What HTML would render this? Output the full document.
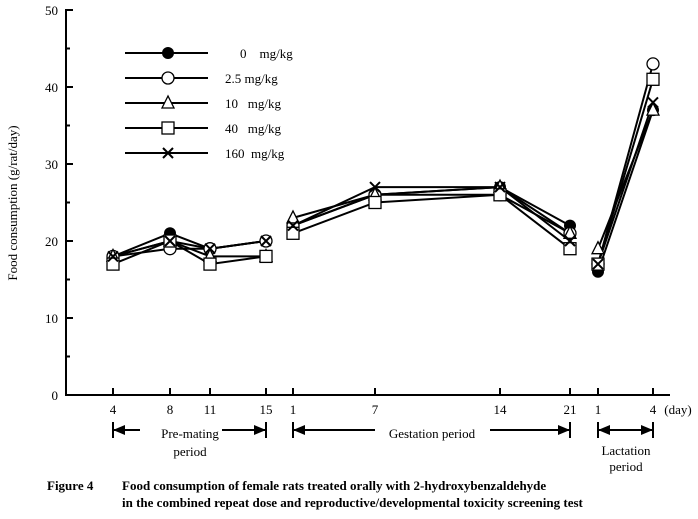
<!DOCTYPE html><html><head><style>body{margin:0;background:#fff}svg{font-family:"Liberation Serif",serif}</style></head><body>
<svg id="s" width="698" height="514" xmlns="http://www.w3.org/2000/svg">
<g stroke="#000" stroke-width="2" fill="none">
<line x1="66" y1="9" x2="66" y2="396"/><line x1="65" y1="395" x2="670" y2="395"/>
<path d="M66 10h7M66 87h7M66 164h7M66 241h7M66 318h7M66 48.5h4M66 125.5h4M66 202.5h4M66 279.5h4M66 356.5h4"/>
<path d="M113 395v-7M170 395v-7M210 395v-7M266 395v-7M293 395v-7M375 395v-7M500 395v-7M570 395v-7M598 395v-7M653 395v-7"/>
</g>
<g font-size="13" text-anchor="end">
<text x="58" y="400">0</text><text x="58" y="323">10</text><text x="58" y="246">20</text><text x="58" y="169">30</text><text x="58" y="92">40</text><text x="58" y="15">50</text>
</g>
<text transform="translate(17,203) rotate(-90)" font-size="13" text-anchor="middle">Food consumption (g/rat/day)</text>
<g font-size="13" text-anchor="middle">
<text x="113" y="414">4</text><text x="170" y="414">8</text><text x="210" y="414">11</text><text x="266" y="414">15</text><text x="293" y="414">1</text><text x="375" y="414">7</text><text x="500" y="414">14</text><text x="570" y="414">21</text><text x="598" y="414">1</text><text x="653" y="414">4</text><text x="678" y="414">(day)</text>
<text x="190" y="438">Pre-mating</text><text x="190" y="456">period</text>
<text x="432" y="438">Gestation period</text>
<text x="626" y="455">Lactation</text><text x="626" y="471">period</text>
</g>
<g stroke="#000" stroke-width="2">
<line x1="113" y1="422" x2="113" y2="438"/><line x1="266" y1="422" x2="266" y2="438"/><line x1="113" y1="430" x2="140" y2="430"/><line x1="222" y1="430" x2="266" y2="430"/>
<line x1="293" y1="422" x2="293" y2="438"/><line x1="570" y1="422" x2="570" y2="438"/><line x1="293" y1="430" x2="375" y2="430"/><line x1="490" y1="430" x2="570" y2="430"/>
<line x1="598" y1="422" x2="598" y2="438"/><line x1="653" y1="422" x2="653" y2="438"/><line x1="598" y1="430" x2="653" y2="430"/>
</g>
<g fill="#000">
<polygon points="113,430 125,425 125,435"/><polygon points="266,430 254,425 254,435"/>
<polygon points="293,430 305,425 305,435"/><polygon points="570,430 558,425 558,435"/>
<polygon points="598,430 610,425 610,435"/><polygon points="653,430 641,425 641,435"/>
</g>
<g font-size="13" font-weight="bold">
<text x="47" y="490">Figure 4</text><text x="122" y="490">Food consumption of female rats treated orally with 2-hydroxybenzaldehyde</text>
<text x="122" y="507">in the combined repeat dose and reproductive/developmental toxicity screening test</text>
</g>
<g font-size="13" id="leg"></g>
<g id="d"></g>
</svg>
<script>
var X=[[113,170,210,266],[293,375,500,570],[598,653]];
var D=[[[18,21,19,20],[22,26,27,22],[16,37]],
[[18,19,19,20],[22,26,26,21],[17,43]],
[[18,20,18,18],[23,26,27,21],[19,37]],
[[17,20,17,18],[21,25,26,19],[17,41]],
[[18,20,19,20],[22,27,27,20],[17,38]]];
var L=["0 &#160;&#160;&#160;mg/kg","2.5 mg/kg","10 &#160;&#160;mg/kg","40 &#160;&#160;mg/kg","160 &#160;mg/kg"];
function y(v){return 395-7.7*v}
function mk(t,x,y){var r=6;
if(t==0)return '<circle cx="'+x+'" cy="'+y+'" r="'+r+'" fill="#000"/>';
if(t==1)return '<circle cx="'+x+'" cy="'+y+'" r="'+r+'" fill="#fff" stroke="#000" stroke-width="1.3"/>';
if(t==2)return '<polygon points="'+x+','+(y-7)+' '+(x-6)+','+(y+5)+' '+(x+6)+','+(y+5)+'" fill="#fff" stroke="#000" stroke-width="1.3"/>';
if(t==3)return '<rect x="'+(x-6)+'" y="'+(y-6)+'" width="12" height="12" fill="#fff" stroke="#000" stroke-width="1.3"/>';
return '<path d="M'+(x-5)+' '+(y-5)+'L'+(x+5)+' '+(y+5)+'M'+(x+5)+' '+(y-5)+'L'+(x-5)+' '+(y+5)+'" stroke="#000" stroke-width="2"/>';}
var h='',m='',lg='';
for(var s=0;s<5;s++){for(var g=0;g<3;g++){var p=X[g].map(function(x,i){return x+','+y(D[s][g][i])}).join(' ');
h+='<polyline points="'+p+'" fill="none" stroke="#000" stroke-width="2"/>';
X[g].forEach(function(x,i){m+=mk(s,x,y(D[s][g][i]))});}
var ly=53+25*s;lg+='<line x1="125" y1="'+ly+'" x2="208" y2="'+ly+'" stroke="#000" stroke-width="2"/>'+mk(s,168,ly)+'<text x="'+(s==0?240:225)+'" y="'+(ly+5)+'">'+L[s]+'</text>';}
document.getElementById('d').innerHTML=h+m;document.getElementById('leg').innerHTML=lg;
</script>
</body></html>
